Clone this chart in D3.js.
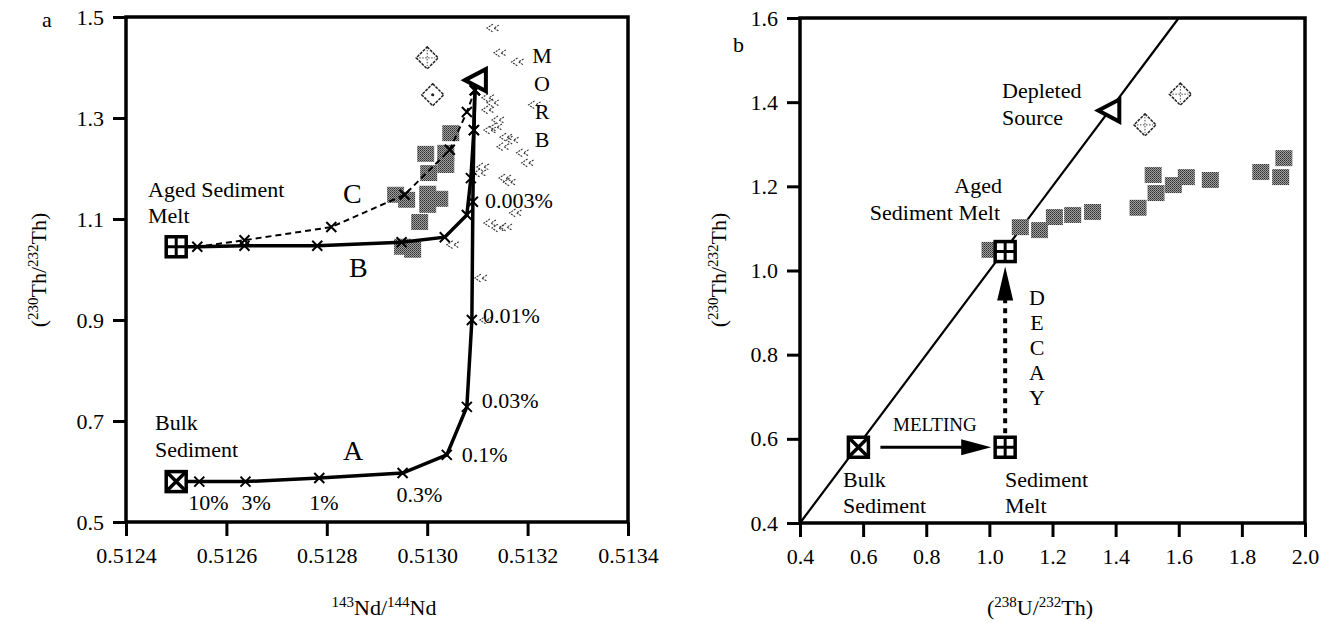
<!DOCTYPE html>
<html><head><meta charset="utf-8">
<script src="https://cdn.jsdelivr.net/npm/d3@7"></script>
<style>
html,body{margin:0;padding:0;background:#fff;}
svg text{font-family:"Liberation Serif","Times New Roman",serif;fill:#000;}
</style></head><body>
<svg id="chart" width="1329" height="623"></svg>
<script>
// ---------- axis ticks ----------
const ndTicks = [0.5124, 0.5126, 0.5128, 0.5130, 0.5132, 0.5134];
const thTicksA = [0.5, 0.7, 0.9, 1.1, 1.3, 1.5];
const uTicks = [0.4, 0.6, 0.8, 1.0, 1.2, 1.4, 1.6, 1.8, 2.0];
const thTicksB = [0.4, 0.6, 0.8, 1.0, 1.2, 1.4, 1.6];

// ---------- panel a: end members ----------
const bulkSedA = [0.51250, 0.580];
const agedMeltA = [0.51250, 1.045];
const depletedA = [0.513097, 1.375];

// mixing curve A (bulk sediment + depleted source)
const curveANd = [0.51250, 0.512546, 0.512638, 0.512785, 0.512951, 0.513039, 0.513079, 0.513089, 0.513091, 0.513093, 0.513095, 0.513097];
const curveATh = [0.580, 0.580, 0.580, 0.587, 0.597, 0.633, 0.728, 0.900, 1.134, 1.276, 1.355, 1.375];
const curveAPct = ["", "10%", "3%", "1%", "0.3%", "0.1%", "0.03%", "0.01%", "0.003%", "", "", ""];

// mixing curve B (aged sediment melt, solid)
const curveBNd = [0.51250, 0.512542, 0.512636, 0.512781, 0.512949, 0.513035, 0.513079, 0.513087, 0.513093, 0.513095, 0.513097];
const curveBTh = [1.045, 1.045, 1.047, 1.047, 1.054, 1.064, 1.108, 1.181, 1.276, 1.355, 1.375];

// mixing curve C (aged sediment melt, dashed)
const curveCNd = [0.51250, 0.512542, 0.512636, 0.512809, 0.512955, 0.513045, 0.513079, 0.513095, 0.513097];
const curveCTh = [1.045, 1.045, 1.058, 1.084, 1.148, 1.237, 1.312, 1.355, 1.375];

// arc lavas (stippled squares)
const lavaNd = [0.513047, 0.513037, 0.512997, 0.513003, 0.513037, 0.512937, 0.512959, 0.513001, 0.513025, 0.513001, 0.512985, 0.512971, 0.512951];
const lavaThA = [1.270, 1.231, 1.229, 1.191, 1.207, 1.148, 1.138, 1.150, 1.140, 1.128, 1.094, 1.039, 1.045];

// diamonds
const diamondNd = [0.513000, 0.513011];
const diamondTh = [1.419, 1.346];
const diamondU = [1.605, 1.493];

// MORB
const morbNd = [0.513125, 0.513139, 0.513174, 0.513208, 0.513125, 0.513115, 0.513131, 0.513119, 0.513151, 0.513145, 0.513184, 0.513194, 0.513105, 0.513099, 0.513149, 0.513158, 0.513170, 0.513119, 0.513135, 0.513151, 0.513045, 0.513101, 0.513111, 0.513115, 0.513135, 0.513164];
const morbTh = [1.478, 1.429, 1.411, 1.326, 1.330, 1.316, 1.282, 1.276, 1.262, 1.243, 1.231, 1.211, 1.203, 1.191, 1.181, 1.173, 1.112, 1.092, 1.082, 1.084, 1.049, 0.983, 0.900, 1.340, 1.296, 1.256];

// ---------- panel b ----------
const lavaU = [1.002, 1.098, 1.159, 1.206, 1.264, 1.327, 1.471, 1.519, 1.528, 1.583, 1.624, 1.700, 1.860, 1.923, 1.933];
const lavaThB = [1.049, 1.103, 1.096, 1.127, 1.132, 1.139, 1.149, 1.227, 1.184, 1.203, 1.222, 1.215, 1.234, 1.222, 1.267];
const bulkSedB = [0.585, 0.580];
const sedMeltB = [1.05, 0.580];
const agedMeltB = [1.05, 1.045];
const depletedB = [1.38, 1.38];
const equiline = [0.4, 1.6];

// ---------- layout ----------
const svg = d3.select("#chart");
const xA = d3.scaleLinear([0.5124, 0.5134], [126, 628]);
const yA = d3.scaleLinear([0.5, 1.5], [522, 17]);
const xB = d3.scaleLinear([0.4, 2.0], [800, 1305]);
const yB = d3.scaleLinear([0.4, 1.6], [523, 18]);

const defs = svg.append("defs");
const pat = defs.append("pattern").attr("id", "stipple").attr("patternUnits", "userSpaceOnUse")
  .attr("width", 2).attr("height", 2);
pat.append("rect").attr("width", 2).attr("height", 2).attr("fill", "#a0a0a0");
pat.append("rect").attr("width", 1).attr("height", 1).attr("fill", "#2e2e2e");
pat.append("rect").attr("x", 1).attr("y", 1).attr("width", 1).attr("height", 1).attr("fill", "#505050");

const FS = 22;

function richText(sel, parts) {
  // parts: [text, superscript?]
  let raised = false;
  parts.forEach(([t, sup]) => {
    const ts = sel.append("tspan").text(t);
    if (sup && !raised) { ts.attr("dy", -8).attr("font-size", 15); raised = true; }
    else if (sup) { ts.attr("font-size", 15); }
    else if (!sup && raised) { ts.attr("dy", 8); raised = false; }
  });
  return sel;
}

function drawAxes(x, y, xt, yt, xfmt, yfmt) {
  const gx = svg.append("g").attr("transform", `translate(0,${y.range()[0]})`)
    .call(d3.axisBottom(x).tickValues(xt).tickFormat(xfmt).tickSize(14).tickSizeOuter(0).tickPadding(11));
  const gy = svg.append("g").attr("transform", `translate(${x.range()[0]},0)`)
    .call(d3.axisLeft(y).tickValues(yt).tickFormat(yfmt).tickSize(13).tickSizeOuter(0).tickPadding(9));
  [gx, gy].forEach(g => {
    g.select(".domain").remove();
    g.selectAll(".tick line").attr("stroke", "#000").attr("stroke-width", 3);
    g.selectAll(".tick text").attr("font-size", FS).attr("font-family", "Liberation Serif").attr("fill", "#000");
  });
  svg.append("rect").attr("x", x.range()[0]).attr("y", y.range()[1])
    .attr("width", x.range()[1] - x.range()[0]).attr("height", y.range()[0] - y.range()[1])
    .attr("fill", "none").attr("stroke", "#000").attr("stroke-width", 3.5);
}

function lavaSquares(x, y, xs, ys) {
  svg.append("g").selectAll("rect").data(xs).join("rect")
    .attr("x", (d, i) => x(d) - 8.5).attr("y", (d, i) => y(ys[i]) - 8)
    .attr("width", 17).attr("height", 16).attr("fill", "url(#stipple)");
}

function diamonds(x, y, xs, ys, inner) {
  const g = svg.append("g");
  xs.forEach((d, i) => {
    const cx = x(d), cy = y(ys[i]);
    g.append("path").attr("d", `M${cx},${cy - 11}L${cx + 11},${cy}L${cx},${cy + 11}L${cx - 11},${cy}Z`)
      .attr("fill", "#fff").attr("stroke", "#222").attr("stroke-width", 1.5).attr("stroke-dasharray", "3,1");
    if (inner[i] === "cross") {
      g.append("path").attr("d", `M${cx - 8},${cy}H${cx + 8}M${cx},${cy - 8}V${cy + 8}`)
        .attr("stroke", "#444").attr("stroke-width", 1).attr("stroke-dasharray", "1.5,1.5");
    } else {
      g.append("circle").attr("cx", cx).attr("cy", cy).attr("r", 1.6).attr("fill", "#222");
    }
  });
}

function crossMarks(g, pts) {
  g.selectAll(null).data(pts).join("path")
    .attr("d", d => `M${d[0] - 5},${d[1] - 5}L${d[0] + 5},${d[1] + 5}M${d[0] - 5},${d[1] + 5}L${d[0] + 5},${d[1] - 5}`)
    .attr("stroke", "#000").attr("stroke-width", 2);
}

function plusBox(cx, cy) {
  const s = 10;
  svg.append("rect").attr("x", cx - s).attr("y", cy - s).attr("width", 2 * s).attr("height", 2 * s)
    .attr("fill", "#fff").attr("stroke", "#000").attr("stroke-width", 3.5);
  svg.append("path").attr("d", `M${cx - s},${cy}H${cx + s}M${cx},${cy - s}V${cy + s}`)
    .attr("stroke", "#000").attr("stroke-width", 3);
}
function crossBox(cx, cy) {
  const s = 10;
  svg.append("rect").attr("x", cx - s).attr("y", cy - s).attr("width", 2 * s).attr("height", 2 * s)
    .attr("fill", "#fff").attr("stroke", "#000").attr("stroke-width", 3.5);
  svg.append("path").attr("d", `M${cx - s},${cy - s}L${cx + s},${cy + s}M${cx - s},${cy + s}L${cx + s},${cy - s}`)
    .attr("stroke", "#000").attr("stroke-width", 3.5);
}
function triangle(cx, cy) {
  svg.append("path").attr("d", `M${cx - 11},${cy}L${cx + 10},${cy - 11}L${cx + 10},${cy + 11}Z`)
    .attr("fill", "#fff").attr("stroke", "#000").attr("stroke-width", 4).attr("stroke-linejoin", "miter");
}
function label(x, y, t, size, anchor) {
  return svg.append("text").attr("x", x).attr("y", y).attr("font-size", size || FS)
    .attr("text-anchor", anchor || "start").text(t);
}

// =============== PANEL A ===============
drawAxes(xA, yA, ndTicks, thTicksA, d3.format(".4f"), d3.format(".1f"));

lavaSquares(xA, yA, lavaNd, lavaThA);
diamonds(xA, yA, diamondNd, diamondTh, ["cross", "dot"]);

// MORB field
const morbG = svg.append("g");
morbNd.forEach((d, i) => {
  const cx = xA(d), cy = yA(morbTh[i]);
  morbG.append("path").attr("d", `M${cx + 3},${cy - 4}L${cx - 3},${cy}L${cx + 3},${cy + 4}M${cx + 9},${cy - 3}L${cx + 4},${cy}L${cx + 9},${cy + 3}`)
    .attr("fill", "none").attr("stroke", "#333").attr("stroke-width", 1.1).attr("stroke-dasharray", "2,1");
});
["M", "O", "R", "B"].forEach((c, i) => label(542, 63 + i * 28, c, FS, "middle"));

const line = (xs, ys) => d3.line().x((d, i) => xA(d)).y((d, i) => yA(ys[i]))(xs);

svg.append("path").attr("d", line(curveCNd, curveCTh)).attr("fill", "none")
  .attr("stroke", "#000").attr("stroke-width", 2).attr("stroke-dasharray", "6,4");
svg.append("path").attr("d", line(curveBNd, curveBTh)).attr("fill", "none")
  .attr("stroke", "#000").attr("stroke-width", 3.5);
svg.append("path").attr("d", line(curveANd, curveATh)).attr("fill", "none")
  .attr("stroke", "#000").attr("stroke-width", 3.5);

const mk = svg.append("g");
const ptsA = curveANd.slice(1, -1).map((d, i) => [xA(d), yA(curveATh[i + 1])]);
const ptsB = curveBNd.slice(1, -1).map((d, i) => [xA(d), yA(curveBTh[i + 1])]);
const ptsC = curveCNd.slice(2, -1).map((d, i) => [xA(d), yA(curveCTh[i + 2])]);
crossMarks(mk, ptsA); crossMarks(mk, ptsB); crossMarks(mk, ptsC);

// percentage labels along curve A
const pctOffset = {"10%": [-11, 28], "3%": [-4, 28], "1%": [-10, 32], "0.3%": [-6, 29],
  "0.1%": [15, 7], "0.03%": [15, 1], "0.01%": [11, 3], "0.003%": [12, 6]};
curveAPct.forEach((p, i) => {
  if (!p) return;
  const o = pctOffset[p];
  label(xA(curveANd[i]) + o[0], yA(curveATh[i]) + o[1], p);
});

crossBox(xA(bulkSedA[0]), yA(bulkSedA[1]));
plusBox(xA(agedMeltA[0]), yA(agedMeltA[1]));
triangle(xA(depletedA[0]), yA(depletedA[1]));

label(148, 197, "Aged Sediment"); label(148, 223, "Melt");
label(155, 430, "Bulk"); label(155, 457, "Sediment");
label(343, 460, "A", 28); label(349, 277, "B", 28); label(343, 203, "C", 28);
label(42, 27, "a");

richText(svg.append("text").attr("x", 384).attr("y", 615).attr("font-size", FS).attr("text-anchor", "middle"),
  [["143", true], ["Nd/", false], ["144", true], ["Nd", false]]);
richText(svg.append("text").attr("transform", "translate(46,270) rotate(-90)").attr("font-size", FS).attr("text-anchor", "middle"),
  [["(", false], ["230", true], ["Th/", false], ["232", true], ["Th)", false]]);

// =============== PANEL B ===============
drawAxes(xB, yB, uTicks, thTicksB, d3.format(".1f"), d3.format(".1f"));

svg.append("line").attr("x1", xB(equiline[0])).attr("y1", yB(equiline[0]))
  .attr("x2", xB(equiline[1])).attr("y2", yB(equiline[1])).attr("stroke", "#000").attr("stroke-width", 2.2);

lavaSquares(xB, yB, lavaU, lavaThB);
diamonds(xB, yB, diamondU, diamondTh, ["cross", "cross"]);

// melting arrow
const mx0 = xB(bulkSedB[0]) + 22, mx1 = xB(sedMeltB[0]) - 14, my = yB(bulkSedB[1]);
svg.append("line").attr("x1", mx0).attr("y1", my).attr("x2", mx1 - 20).attr("y2", my)
  .attr("stroke", "#000").attr("stroke-width", 3);
svg.append("path").attr("d", `M${mx1},${my}L${mx1 - 30},${my - 8}L${mx1 - 30},${my + 8}Z`).attr("fill", "#000");

// decay arrow
const dx = xB(sedMeltB[0]), dy0 = yB(sedMeltB[1]) - 14, dy1 = yB(agedMeltB[1]) + 15;
svg.append("line").attr("x1", dx).attr("y1", dy0).attr("x2", dx).attr("y2", dy1 + 28)
  .attr("stroke", "#000").attr("stroke-width", 4).attr("stroke-dasharray", "5,5");
svg.append("path").attr("d", `M${dx},${dy1}L${dx - 8},${dy1 + 34}L${dx + 8},${dy1 + 34}Z`).attr("fill", "#000");

crossBox(xB(bulkSedB[0]), yB(bulkSedB[1]));
plusBox(xB(sedMeltB[0]), yB(sedMeltB[1]));
plusBox(xB(agedMeltB[0]), yB(agedMeltB[1]));
triangle(xB(depletedB[0]), yB(depletedB[1]));

label(1002, 98, "Depleted"); label(1002, 125, "Source");
label(1002, 193, "Aged", FS, "end"); label(1000, 220, "Sediment Melt", FS, "end");
label(893, 431, "MELTING", 19);
label(843, 487, "Bulk"); label(843, 513, "Sediment");
label(1005, 487, "Sediment"); label(1005, 513, "Melt");
["D", "E", "C", "A", "Y"].forEach((c, i) => label(1037, 305 + i * 25, c, FS, "middle"));
label(733, 52, "b");

richText(svg.append("text").attr("x", 1040).attr("y", 615).attr("font-size", FS).attr("text-anchor", "middle"),
  [["(", false], ["238", true], ["U/", false], ["232", true], ["Th)", false]]);
richText(svg.append("text").attr("transform", "translate(726,270) rotate(-90)").attr("font-size", FS).attr("text-anchor", "middle"),
  [["(", false], ["230", true], ["Th/", false], ["232", true], ["Th)", false]]);
</script>
</body></html>
